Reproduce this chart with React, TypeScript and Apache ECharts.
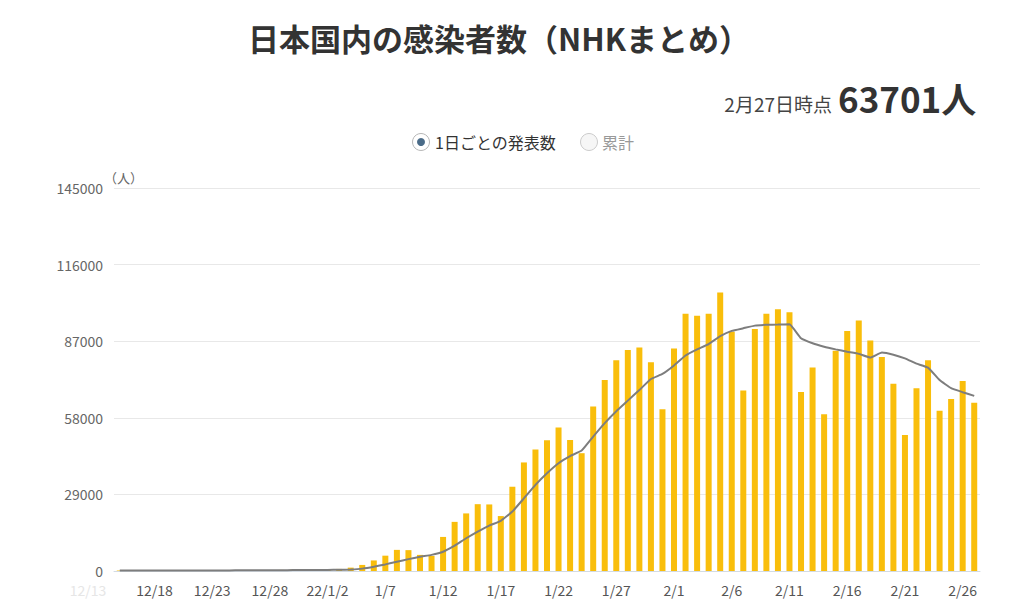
import React, { useEffect, useRef } from "react";
import * as echarts from "echarts";

const dates = [
  "12/15", "12/16", "12/17", "12/18", "12/19", "12/20", "12/21", "12/22", "12/23", "12/24",
  "12/25", "12/26", "12/27", "12/28", "12/29", "12/30", "12/31", "1/1", "22/1/2", "1/3",
  "1/4", "1/5", "1/6", "1/7", "1/8", "1/9", "1/10", "1/11", "1/12", "1/13",
  "1/14", "1/15", "1/16", "1/17", "1/18", "1/19", "1/20", "1/21", "1/22", "1/23",
  "1/24", "1/25", "1/26", "1/27", "1/28", "1/29", "1/30", "1/31", "2/1", "2/2",
  "2/3", "2/4", "2/5", "2/6", "2/7", "2/8", "2/9", "2/10", "2/11", "2/12",
  "2/13", "2/14", "2/15", "2/16", "2/17", "2/18", "2/19", "2/20", "2/21", "2/22",
  "2/23", "2/24", "2/25", "2/26", "2/27",
];

const dailyCases = [
  186, 170, 172, 183, 160, 135, 253, 262, 283, 305,
  326, 293, 204, 385, 402, 500, 517, 456, 552, 782,
  1270, 2300, 4000, 5800, 8000, 7900, 6100, 5700, 12900, 18600,
  21800, 25300, 25200, 20800, 31900, 41100, 46000, 49500, 54300, 49600,
  44600, 62300, 72300, 79800, 83700, 84600, 79000, 61200, 84200, 97400,
  96600, 97400, 105400, 90600, 68300, 91600, 97400, 99100, 98000, 67800,
  77000, 59300, 83400, 90900, 94800, 87300, 81000, 70900, 51500, 69200,
  79800, 60700, 65100, 71900, 63701,
];

const weeklyAvg = [
  160, 165, 170, 175, 175, 170, 180, 195, 210, 225,
  245, 260, 270, 290, 310, 340, 370, 390, 410, 450,
  580, 900, 1600, 2500, 3500, 4500, 5400, 6100, 7300, 9600,
  12400, 14900, 17200, 19000, 22500, 27500, 32600, 37000, 40800, 43500,
  45600, 50900, 56000, 60500, 64500, 68500, 72700, 74600, 77800, 81600,
  83900, 85900, 88900, 90900, 91900, 92900, 93200, 93300, 93400, 88100,
  86200, 84900, 83900, 83000, 82200, 80800, 82700, 81900, 80500, 78500,
  77000, 72300, 69200, 67700, 66300,
];

const yMax = 145000;
const yInterval = 29000;

const FONT = '"Noto Sans CJK JP", "Noto Sans", sans-serif';

export default function App() {
  const ref = useRef<HTMLDivElement>(null);

  useEffect(() => {
    if (!ref.current) return;
    const chart = echarts.init(ref.current, undefined, { renderer: "svg" });
    chart.setOption({
      animation: false,
      backgroundColor: "#ffffff",
      textStyle: { fontFamily: FONT },
      grid: { left: 114, right: 44, top: 188, bottom: 42, containLabel: false },
      xAxis: {
        type: "category",
        data: dates,
        boundaryGap: true,
        axisLine: { show: true, lineStyle: { color: "#d3dbe3", width: 1 } },
        axisTick: { show: false },
        axisLabel: {
          interval: (idx: number) => (idx - 3) % 5 === 0 && idx >= 3,
          color: "#555555",
          fontSize: 14,
          margin: 12,
          fontFamily: FONT,
        },
        splitLine: { show: false },
      },
      yAxis: {
        type: "value",
        min: 0,
        max: yMax,
        interval: yInterval,
        axisLine: { show: false },
        axisTick: { show: false },
        axisLabel: {
          color: "#666666",
          fontSize: 14,
          margin: 11,
          fontFamily: FONT,
          formatter: (v: number) => String(v),
        },
        splitLine: { lineStyle: { color: "#e8e8e8", width: 1 } },
      },
      series: [
        {
          name: "1日ごとの発表数",
          type: "bar",
          data: dailyCases,
          barWidth: 6,
          itemStyle: { color: "#F9BE0B" },
        },
        {
          name: "7日間平均",
          type: "line",
          data: weeklyAvg,
          smooth: 0.1,
          symbol: "none",
          lineStyle: { color: "#7d7d7d", width: 2 },
          z: 5,
        },
      ],
      graphic: [
        {
          type: "text",
          x: 499,
          y: 37,
          style: {
            text: "日本国内の感染者数（NHKまとめ）",
            fill: "#333333",
            fontSize: 31,
            fontWeight: "bold",
            fontFamily: FONT,
            textAlign: "center",
            textVerticalAlign: "middle",
          },
        },
        {
          type: "text",
          x: 832,
          y: 103,
          style: {
            text: "2月27日時点",
            fill: "#444444",
            fontSize: 19,
            fontFamily: FONT,
            textAlign: "right",
            textVerticalAlign: "middle",
          },
        },
        {
          type: "text",
          x: 838,
          y: 97,
          style: {
            text: "63701人",
            fill: "#333333",
            fontSize: 35,
            fontWeight: "bold",
            fontFamily: FONT,
            textAlign: "left",
            textVerticalAlign: "middle",
          },
        },
        {
          type: "circle",
          shape: { cx: 421, cy: 142, r: 8.5 },
          style: { fill: "#ffffff", stroke: "#b8b8b8", lineWidth: 1 },
        },
        {
          type: "circle",
          shape: { cx: 421, cy: 142, r: 4 },
          style: { fill: "#4a6b88" },
        },
        {
          type: "text",
          x: 435,
          y: 142,
          style: {
            text: "1日ごとの発表数",
            fill: "#333333",
            fontSize: 16,
            fontFamily: FONT,
            textVerticalAlign: "middle",
          },
        },
        {
          type: "circle",
          shape: { cx: 589, cy: 142, r: 8.5 },
          style: { fill: "#f6f6f6", stroke: "#cccccc", lineWidth: 1 },
        },
        {
          type: "text",
          x: 602,
          y: 142,
          style: {
            text: "累計",
            fill: "#999999",
            fontSize: 16,
            fontFamily: FONT,
            textVerticalAlign: "middle",
          },
        },
        {
          type: "text",
          x: 104,
          y: 177,
          style: {
            text: "（人）",
            fill: "#666666",
            fontSize: 13,
            fontFamily: FONT,
            textVerticalAlign: "middle",
          },
        },
        {
          type: "text",
          x: 88,
          y: 590,
          style: {
            text: "12/13",
            fill: "#e6e6e6",
            fontSize: 14,
            fontFamily: FONT,
            textAlign: "center",
            textVerticalAlign: "middle",
          },
        },
      ],
    });
    return () => chart.dispose();
  }, []);

  return (
    <div
      ref={ref}
      style={{ width: 1024, height: 613, position: "absolute", left: 0, top: 0 }}
    />
  );
}
